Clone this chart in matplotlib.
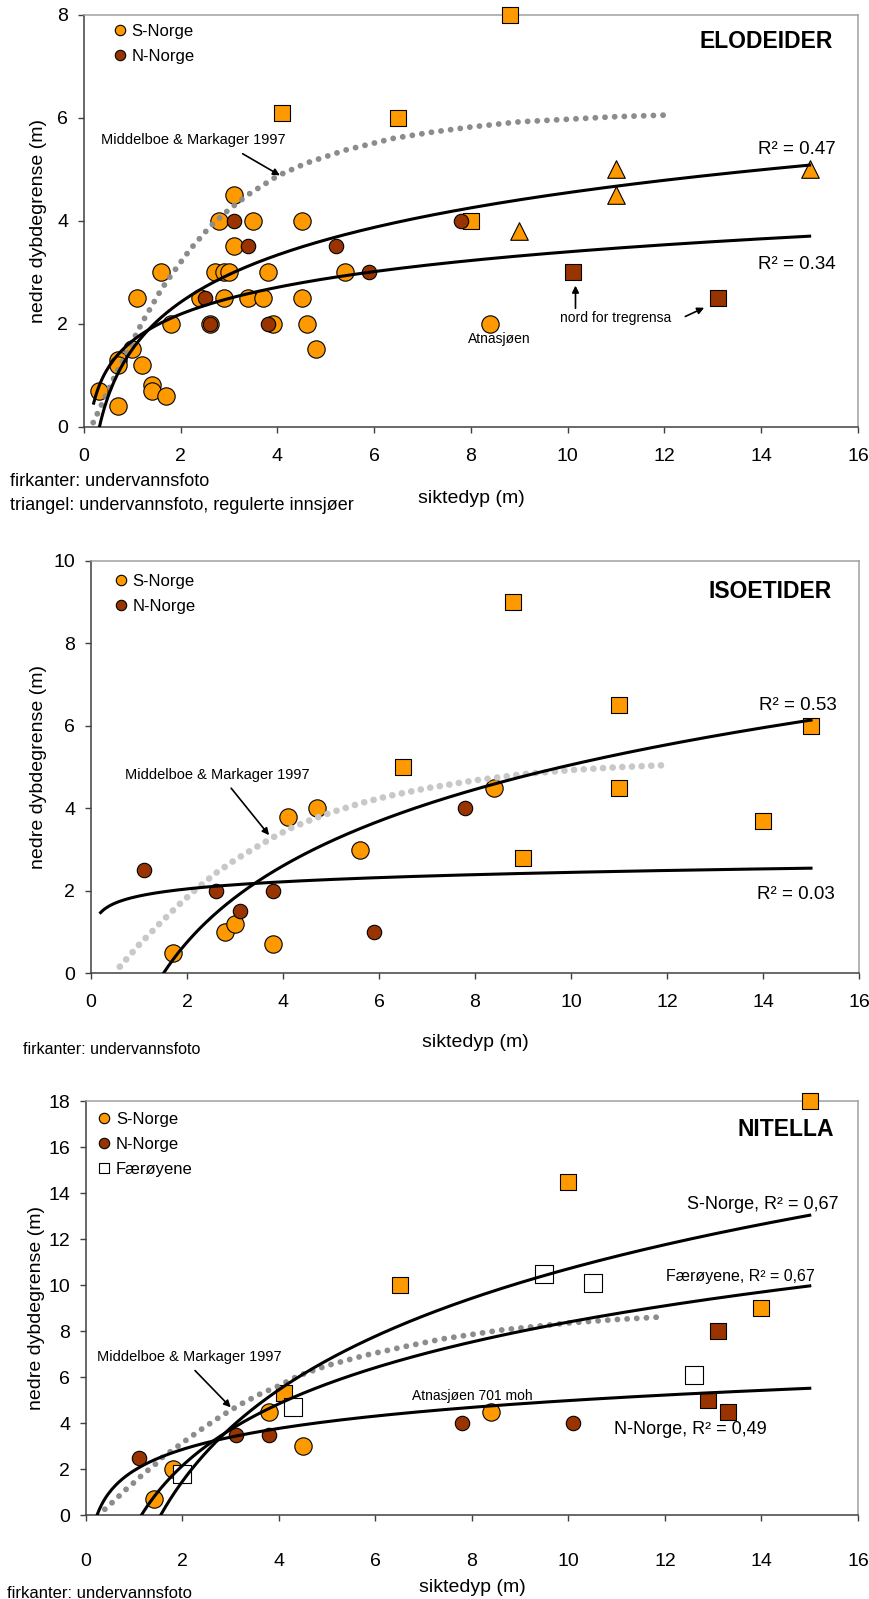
import matplotlib.pyplot as plt
from matplotlib.lines import Line2D
import numpy as np

plt.rcParams['font.family'] = ['Liberation Sans', 'DejaVu Sans']

ORANGE = '#ff9900'
BROWN = '#993300'

# ---- ELODEIDER ----
elo_s_circ_x = [0.3, 0.7, 0.7, 0.7, 1.0, 1.1, 1.2, 1.4, 1.4, 1.6, 1.7, 1.8, 2.4, 2.6, 2.7, 2.8, 2.9,
                2.9, 3.0, 3.1, 3.1, 3.4, 3.5, 3.7, 3.8, 3.9, 4.5, 4.5, 4.6, 4.8, 5.4, 8.4]
elo_s_circ_y = [0.7, 1.3, 1.2, 0.4, 1.5, 2.5, 1.2, 0.8, 0.7, 3.0, 0.6, 2.0, 2.5, 2.0, 3.0, 4.0, 2.5,
                3.0, 3.0, 4.5, 3.5, 2.5, 4.0, 2.5, 3.0, 2.0, 4.0, 2.5, 2.0, 1.5, 3.0, 2.0]
elo_n_circ_x = [2.5, 2.6, 3.1, 3.4, 3.8, 5.2, 5.9, 7.8]
elo_n_circ_y = [2.5, 2.0, 4.0, 3.5, 2.0, 3.5, 3.0, 4.0]
elo_s_sq_x = [4.1, 6.5, 8.8, 8.0]
elo_s_sq_y = [6.1, 6.0, 8.0, 4.0]
elo_n_sq_x = [10.1, 13.1]
elo_n_sq_y = [3.0, 2.5]
elo_tri_x = [9.0, 11.0, 11.0, 15.0]
elo_tri_y = [3.8, 5.0, 4.5, 5.0]
# log trendlines y = a*ln(x) + b
elo_fit_a = [1.32, 0.751]
elo_fit_b = [1.505, 1.666]
elo_r2 = ['R² = 0.47', 'R² = 0.34']
elo_mm_x = [0.19, 0.4, 0.6, 1.0, 1.2, 1.6, 1.8, 2.2, 2.6, 3.0, 3.4, 4.0, 4.6, 5.4, 6.4, 7.2, 8.0,
            9.0, 10.0, 11.0, 12.0]
elo_mm_y = [0.08, 0.5, 0.91, 1.65, 2.02, 2.67, 2.94, 3.45, 3.88, 4.22, 4.51, 4.87, 5.12, 5.37, 5.60,
            5.72, 5.82, 5.92, 5.97, 6.02, 6.05]

# ---- ISOETIDER ----
iso_s_circ_x = [1.7, 2.8, 3.0, 3.8, 4.1, 4.7, 5.6, 8.4]
iso_s_circ_y = [0.5, 1.0, 1.2, 0.7, 3.8, 4.0, 3.0, 4.5]
iso_n_circ_x = [1.1, 2.6, 3.1, 3.8, 5.9, 7.8]
iso_n_circ_y = [2.5, 2.0, 1.5, 2.0, 1.0, 4.0]
iso_s_sq_x = [6.5, 8.8, 11.0, 11.0, 9.0, 14.0, 15.0]
iso_s_sq_y = [5.0, 9.0, 6.5, 4.5, 2.8, 3.7, 6.0]
iso_fit_a = [2.674, 0.2495]
iso_fit_b = [-1.10, 1.874]
iso_r2 = ['R² = 0.53', 'R² = 0.03']
iso_mm_x = [0.6, 1.0, 1.4, 1.8, 2.2, 2.6, 3.0, 3.4, 3.8, 4.2, 4.6, 5.0, 5.6, 6.2, 7.0, 8.0, 9.0,
            10.0, 11.0, 12.0]
iso_mm_y = [0.16, 0.69, 1.17, 1.63, 2.05, 2.43, 2.75, 3.03, 3.30, 3.54, 3.73, 3.90, 4.12, 4.30, 4.49,
            4.68, 4.83, 4.93, 5.00, 5.05]

# ---- NITELLA ----
nit_s_circ_x = [1.4, 1.8, 3.8, 4.5, 8.4]
nit_s_circ_y = [0.7, 2.0, 4.5, 3.0, 4.5]
nit_n_circ_x = [1.1, 3.1, 3.8, 7.8, 10.1]
nit_n_circ_y = [2.5, 3.5, 3.5, 4.0, 4.0]
nit_s_sq_x = [4.1, 6.5, 10.0, 15.0, 14.0]
nit_s_sq_y = [5.3, 10.0, 14.5, 18.0, 9.0]
nit_n_sq_x = [13.1, 12.9, 13.3]
nit_n_sq_y = [8.0, 5.0, 4.5]
nit_f_sq_x = [2.0, 4.3, 9.5, 10.5, 12.6]
nit_f_sq_y = [1.8, 4.7, 10.5, 10.1, 6.1]
nit_fit_a = [5.74, 3.878, 1.319]
nit_fit_b = [-2.51, -0.54, 1.938]
nit_r2 = ['S-Norge, R² = 0,67', 'Færøyene, R² = 0,67', 'N-Norge, R² = 0,49']
nit_mm_x = [0.39, 0.6, 0.8, 1.0, 1.2, 1.4, 1.6, 1.8, 2.0, 2.4, 2.8, 3.2, 3.6, 4.0, 4.4, 5.0, 5.8,
            6.6, 7.4, 8.6, 10.0, 11.0, 12.0]
nit_mm_y = [0.25, 0.65, 1.06, 1.42, 1.81, 2.13, 2.54, 2.83, 3.14, 3.74, 4.30, 4.81, 5.25, 5.62, 6.05,
            6.50, 6.95, 7.32, 7.66, 8.04, 8.35, 8.50, 8.62]


def style_axes(ax, ymax, xpad, ylab_x):
    ax.set_xlim(0, 16)
    ax.set_ylim(0, ymax)
    ax.set_xticks(range(0, 17, 2))
    ax.set_yticks(range(0, ymax + 1, 2))
    for side in ['top', 'right']:
        ax.spines[side].set_color('#a0a0a0')
    for side in ['left', 'bottom']:
        ax.spines[side].set_color('#404040')
    for s in ax.spines.values():
        s.set_linewidth(1.1)
    ax.tick_params(direction='out', length=4.5, width=1.0, color='#404040', labelsize=14)
    ax.tick_params(axis='x', pad=xpad)
    ax.tick_params(axis='y', pad=7)
    ax.set_ylabel('nedre dybdegrense (m)', fontsize=14, va='center')
    ax.yaxis.set_label_coords(ylab_x, 0.5)


def pts(ax, x, y, marker, color, size):
    ax.scatter(x, y, s=size, marker=marker, facecolor=color, edgecolor='black',
               linewidth=0.8, zorder=3, clip_on=False)


def log_fit(ax, a, b):
    # Excel style logarithmic trendline
    x = np.linspace(0.2, 15, 400)
    ax.plot(x, a * np.log(x) + b, color='black', lw=2.2, zorder=6)


def mm_line(ax, x, y, color, lw, gap):
    ax.plot(x, y, color=color, lw=lw, ls=(0, (0.01, gap)), dash_capstyle='round', zorder=4)


def legend(ax, anchor, faer=False):
    h = [Line2D([], [], ls='', marker='o', ms=7.5, mfc=ORANGE, mec='black', mew=0.8),
         Line2D([], [], ls='', marker='o', ms=7.5, mfc=BROWN, mec='black', mew=0.8)]
    labels = ['S-Norge', 'N-Norge']
    if faer:
        h.append(Line2D([], [], ls='', marker='s', ms=7.5, mfc='white', mec='black', mew=0.8))
        labels.append('Færøyene')
    ax.legend(h, labels, loc='upper left', bbox_to_anchor=anchor, frameon=False, fontsize=12,
              handlelength=0.8, handletextpad=0.3, labelspacing=0.6, borderpad=0, borderaxespad=0)


def arrow(ax, tail, tip):
    ax.annotate('', xy=tip, xytext=tail,
                arrowprops=dict(arrowstyle='-|>', color='black', lw=1.2, mutation_scale=10,
                                shrinkA=0, shrinkB=0))


fig = plt.figure(figsize=(8.7, 15.99), dpi=100)

# ELODEIDER
ax1 = fig.add_axes([84 / 870, 1 - 426.7 / 1599, 774 / 870, 412 / 1599])
style_axes(ax1, 8, 10.5, -0.059)
pts(ax1, elo_s_sq_x, elo_s_sq_y, 's', ORANGE, 140)
pts(ax1, elo_tri_x, elo_tri_y, '^', ORANGE, 160)
pts(ax1, elo_s_circ_x, elo_s_circ_y, 'o', ORANGE, 156)
pts(ax1, elo_n_sq_x, elo_n_sq_y, 's', BROWN, 118)
pts(ax1, elo_n_circ_x, elo_n_circ_y, 'o', BROWN, 108)
mm_line(ax1, elo_mm_x, elo_mm_y, '#8c8c8c', 4.2, 1.65)
for a, b in zip(elo_fit_a, elo_fit_b):
    log_fit(ax1, a, b)
ax1.text(15.53, 5.39, elo_r2[0], ha='right', va='center', fontsize=13.5)
ax1.text(15.53, 3.14, elo_r2[1], ha='right', va='center', fontsize=13.5)
ax1.text(0.968, 0.934, 'ELODEIDER', transform=ax1.transAxes, ha='right', va='center',
         fontsize=16.5, fontweight='bold')
ax1.text(0.36, 5.57, 'Middelboe & Markager 1997', ha='left', va='center', fontsize=10.5)
arrow(ax1, (3.28, 5.30), (4.05, 4.88))
ax1.text(8.59, 1.70, 'Atnasjøen', ha='center', va='center', fontsize=10)
ax1.text(9.84, 2.12, 'nord for tregrensa', ha='left', va='center', fontsize=10)
arrow(ax1, (10.16, 2.30), (10.16, 2.74))
arrow(ax1, (12.43, 2.14), (12.82, 2.31))
legend(ax1, (0.038, 0.978))
ax1.set_xlabel('siktedyp (m)', fontsize=14, va='center')
ax1.xaxis.set_label_coords(0.5, -72 / 412)
fig.text(10 / 870, 1 - 481.7 / 1599, 'firkanter: undervannsfoto', va='center', fontsize=13)
fig.text(10 / 870, 1 - 505 / 1599, 'triangel: undervannsfoto, regulerte innsjøer', va='center', fontsize=13)

# ISOETIDER
ax2 = fig.add_axes([91 / 870, 1 - 973.3 / 1599, 768 / 870, 412.3 / 1599])
style_axes(ax2, 10, 10.5, -0.069)
pts(ax2, iso_s_sq_x, iso_s_sq_y, 's', ORANGE, 140)
pts(ax2, iso_s_circ_x, iso_s_circ_y, 'o', ORANGE, 156)
pts(ax2, iso_n_circ_x, iso_n_circ_y, 'o', BROWN, 108)
mm_line(ax2, iso_mm_x, iso_mm_y, '#c8c8c8', 4.8, 1.44)
for a, b in zip(iso_fit_a, iso_fit_b):
    log_fit(ax2, a, b)
ax2.text(15.54, 6.49, iso_r2[0], ha='right', va='center', fontsize=13.5)
ax2.text(15.5, 1.92, iso_r2[1], ha='right', va='center', fontsize=13.5)
ax2.text(0.965, 0.925, 'ISOETIDER', transform=ax2.transAxes, ha='right', va='center',
         fontsize=16.5, fontweight='bold')
ax2.text(0.71, 4.81, 'Middelboe & Markager 1997', ha='left', va='center', fontsize=10.5)
arrow(ax2, (2.92, 4.49), (3.71, 3.35))
legend(ax2, (0.030, 0.968))
ax2.set_xlabel('siktedyp (m)', fontsize=14, va='center')
ax2.xaxis.set_label_coords(0.5, -69 / 412.3)
fig.text(22.7 / 870, 1 - 1049.3 / 1599, 'firkanter: undervannsfoto', va='center', fontsize=11.5)

# NITELLA
ax3 = fig.add_axes([86 / 870, 1 - 1515 / 1599, 772 / 870, 414 / 1599])
style_axes(ax3, 18, 22.5, -0.064)
pts(ax3, nit_s_sq_x, nit_s_sq_y, 's', ORANGE, 148)
pts(ax3, nit_s_circ_x, nit_s_circ_y, 'o', ORANGE, 156)
pts(ax3, nit_n_sq_x, nit_n_sq_y, 's', BROWN, 118)
pts(ax3, nit_n_circ_x, nit_n_circ_y, 'o', BROWN, 108)
pts(ax3, nit_f_sq_x, nit_f_sq_y, 's', 'white', 150)
mm_line(ax3, nit_mm_x, nit_mm_y, '#8c8c8c', 4.2, 1.65)
for a, b in zip(nit_fit_a, nit_fit_b):
    log_fit(ax3, a, b)
ax3.text(15.59, 13.48, nit_r2[0], ha='right', va='center', fontsize=13)
ax3.text(15.11, 10.36, nit_r2[1], ha='right', va='center', fontsize=11.5)
ax3.text(14.1, 3.7, nit_r2[2], ha='right', va='center', fontsize=13)
ax3.text(6.76, 5.17, 'Atnasjøen 701 moh', ha='left', va='center', fontsize=10)
ax3.text(0.969, 0.932, 'NITELLA', transform=ax3.transAxes, ha='right', va='center',
         fontsize=16.5, fontweight='bold')
ax3.text(0.22, 6.86, 'Middelboe & Markager 1997', ha='left', va='center', fontsize=10.5)
arrow(ax3, (2.26, 6.28), (3.0, 4.68))
legend(ax3, (0.015, 0.974), faer=True)
ax3.set_xlabel('siktedyp (m)', fontsize=14, va='center')
ax3.xaxis.set_label_coords(0.5, -73 / 414)
fig.text(6.7 / 870, 1 - 1593 / 1599, 'firkanter: undervannsfoto', va='center', fontsize=12)

fig.savefig('out.png', dpi=100)
